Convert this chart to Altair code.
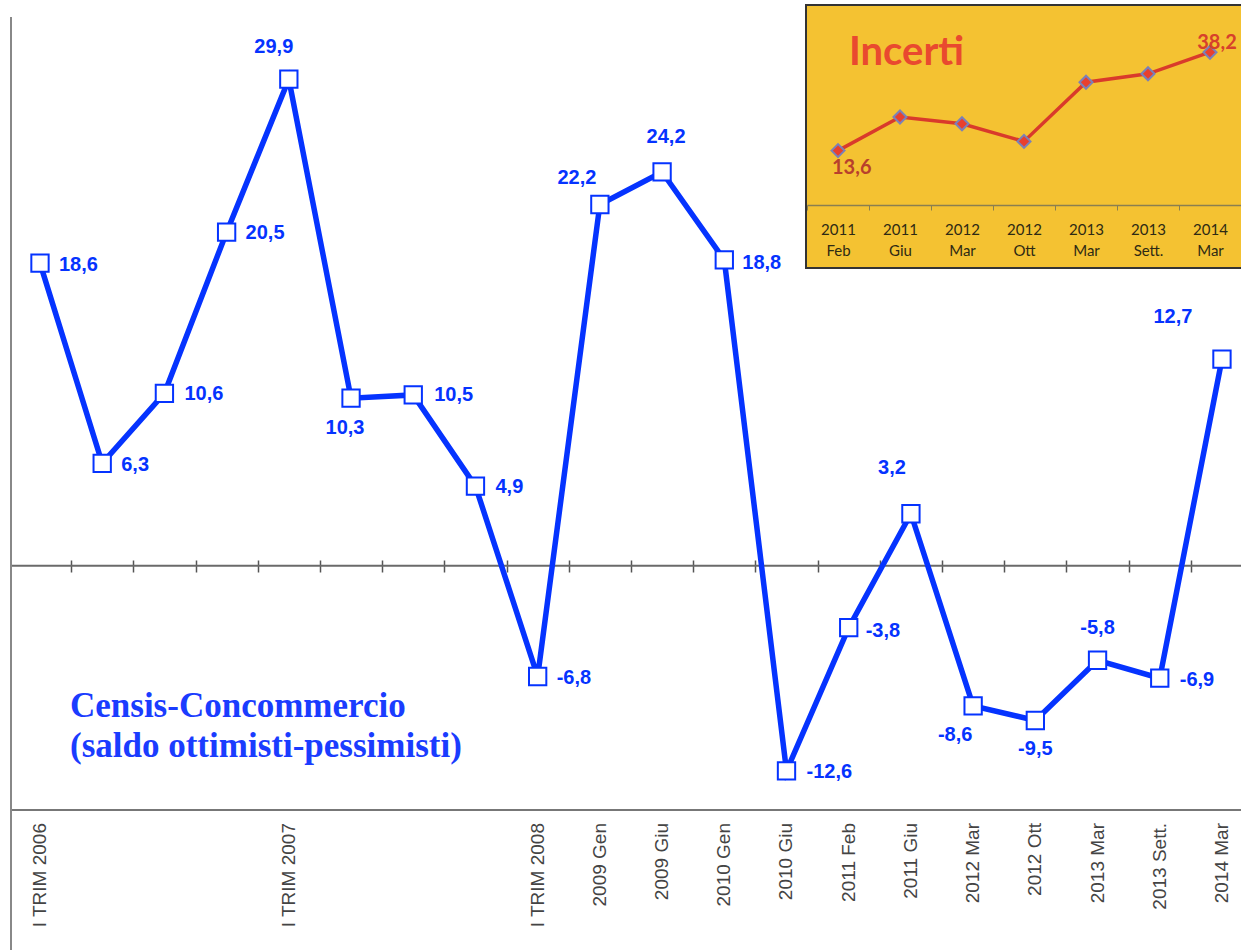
import altair as alt
import pandas as pd

# ---------------- data ----------------
periods = ["I TRIM 2006", "", "", "", "I TRIM 2007", "", "", "", "I TRIM 2008",
           "2009 Gen", "2009 Giu", "2010 Gen", "2010 Giu", "2011 Feb", "2011 Giu",
           "2012 Mar", "2012 Ott", "2013 Mar", "2013 Sett.", "2014 Mar"]
saldo = [18.6, 6.3, 10.6, 20.5, 29.9, 10.3, 10.5, 4.9, -6.8, 22.2, 24.2, 18.8,
         -12.6, -3.8, 3.2, -8.6, -9.5, -5.8, -6.9, 12.7]

inset_periods = ["2011 Feb", "2011 Giu", "2012 Mar", "2012 Ott", "2013 Mar", "2013 Sett.", "2014 Mar"]
incerti = [13.6, 22.0, 20.3, 15.9, 30.7, 32.8, 38.2]
inset_shown_labels = ["13,6", "", "", "", "", "", "38,2"]

title_lines = "Censis-Concommercio\n(saldo ottimisti-pessimisti)"
inset_title = "Incerti"

# label placement (align, dx, dy) per point -- styling only
label_place = {
    0: ("left", 19, 2), 1: ("left", 19, 2), 2: ("left", 20, 1), 3: ("left", 19, 1),
    4: ("center", -15, -32), 5: ("center", -6, 30), 6: ("left", 21, 0), 7: ("left", 20, 1),
    8: ("left", 19, 1), 9: ("center", -23, -27), 10: ("center", 4, -35), 11: ("left", 18, 3),
    12: ("left", 20, 1), 13: ("left", 17, 3), 14: ("center", -19, -46), 15: ("center", -18, 29),
    16: ("center", 0, 29), 17: ("center", 0, -32), 18: ("left", 20, 2), 19: ("center", -49, -42),
}

BLUE = "#0533FF"

main_df = pd.DataFrame({
    "idx": list(range(len(saldo))),
    "val": saldo,
    "lab": [f"{v:.1f}".replace(".", ",") for v in saldo],
    "per": periods,
})
one = pd.DataFrame({"k": [0]})

inset_df = pd.DataFrame({"cat": inset_periods, "val": incerti, "lab": inset_shown_labels})

# ---------------- main chart ----------------
W, H = 1230, 793
xscale = alt.Scale(domain=[-0.466, 19.306], nice=False, zero=False)
yscale = alt.Scale(domain=[-15, 33.72], nice=False, zero=False)

X = alt.X("idx:Q", scale=xscale,
          axis=alt.Axis(orient="bottom", values=[k + 0.5 for k in range(len(saldo) - 1)],
                        labels=False, domain=False, grid=False, tickSize=12,
                        tickColor="#555555", tickWidth=1.5, offset=-250, title=None))
Y = alt.Y("val:Q", scale=yscale, axis=None)

base = alt.Chart(main_df)

zero_rule = alt.Chart(one).mark_rule(color="#6a6a6a", strokeWidth=2).encode(
    y=alt.Y("z:Q", scale=yscale, axis=None)
).transform_calculate(z="0")

bottom_rule = alt.Chart(one).mark_rule(color="#777777", strokeWidth=2).encode(
    y=alt.value(H), x=alt.value(0), x2=alt.value(W))
left_rule = alt.Chart(one).mark_rule(color="#888888", strokeWidth=2).encode(
    x=alt.value(0), y=alt.value(0), y2=alt.value(933))

line = base.mark_line(color=BLUE, strokeWidth=5.5).encode(x=X, y=Y)
points = base.mark_square(fill="white", stroke=BLUE, strokeWidth=2, size=300,
                          opacity=1, fillOpacity=1).encode(x=X, y=Y)

label_layers = []
for i, (al, dx, dy) in label_place.items():
    label_layers.append(
        base.transform_filter(alt.datum.idx == i).mark_text(
            align=al, baseline="middle", dx=dx, dy=dy, font="Liberation Sans",
            fontWeight="bold", fontSize=20, color=BLUE
        ).encode(x=X, y=Y, text="lab:N")
    )

cat_labels = base.transform_filter(alt.datum.per != "").mark_text(
    angle=270, align="right", baseline="middle", font="Liberation Sans",
    fontSize=19, color="#444444"
).encode(x=X, y=alt.value(806), text="per:N")

title_text = alt.Chart(one).mark_text(
    align="left", baseline="alphabetic", font="Liberation Serif", fontWeight="bold",
    fontSize=35, color="#1A3CFF", lineBreak="\n", lineHeight=40
).encode(x=alt.value(59), y=alt.value(700), text=alt.value(title_lines))

main = alt.layer(zero_rule, bottom_rule, left_rule, line, points, *label_layers,
                 cat_labels, title_text)

# ---------------- inset ----------------
IX = alt.X("cat:N", sort=inset_periods,
           scale=alt.Scale(type="band", domain=inset_periods, range=[796, 1230],
                           paddingInner=0, paddingOuter=0),
           bandPosition=0.5,
           axis=alt.Axis(orient="bottom", offset=-605, title=None, labelAngle=0,
                         labelExpr="split(datum.label, ' ')", labelFont="Lato",
                         labelFontSize=15, labelColor="#2e2a14", labelLineHeight=21,
                         labelPadding=12, tickSize=5, tickBand="extent",
                         domainColor="#8a7f50", tickColor="#8a7f50", domainWidth=1.5,
                         grid=False, zindex=2))
IY = alt.Y("val:Q", scale=alt.Scale(domain=[0, 50], range=[188, -12], nice=False, zero=False),
           axis=None)

ibase = alt.Chart(inset_df)
box = alt.Chart(one).mark_rect(fill="#F4C232", stroke="#333333", strokeWidth=2).encode(
    x=alt.value(795), x2=alt.value(1240), y=alt.value(-12), y2=alt.value(251))
iline = ibase.mark_line(color="#D93A2B", strokeWidth=3.5).encode(x=IX, y=IY)
ipoints = ibase.mark_point(shape="diamond", filled=True, fill="#E8402E", stroke="#7B80B8",
                           strokeWidth=2, size=170, opacity=1).encode(x=IX, y=IY)
ilab_first = ibase.transform_filter(alt.datum.cat == inset_periods[0]).mark_text(
    align="left", baseline="middle", dx=-6, dy=17, font="Lato", fontWeight="bold",
    fontSize=20, color="#B8402C").encode(x=IX, y=IY, text="lab:N")
ilab_last = ibase.transform_filter(alt.datum.cat == inset_periods[-1]).mark_text(
    align="center", baseline="middle", dx=7, dy=-9, font="Lato", fontWeight="bold",
    fontSize=20, color="#D7402B").encode(x=IX, y=IY, text="lab:N")
ititle = alt.Chart(one).mark_text(
    align="left", baseline="alphabetic", font="Lato", fontWeight="bold", fontSize=40,
    color="#E9492F").encode(x=alt.value(838), y=alt.value(48), text=alt.value(inset_title))

inset = alt.layer(box, iline, ipoints, ilab_first, ilab_last, ititle)

chart = alt.layer(main, inset).resolve_scale(x="independent", y="independent").properties(
    width=W, height=H,
    padding={"left": 11, "top": 17, "right": 0, "bottom": 140},
    autosize=alt.AutoSizeParams(type="none"),
    background="white",
).configure_view(stroke=None)

chart.save("out.html", embed_options={"renderer": "svg", "actions": False})
